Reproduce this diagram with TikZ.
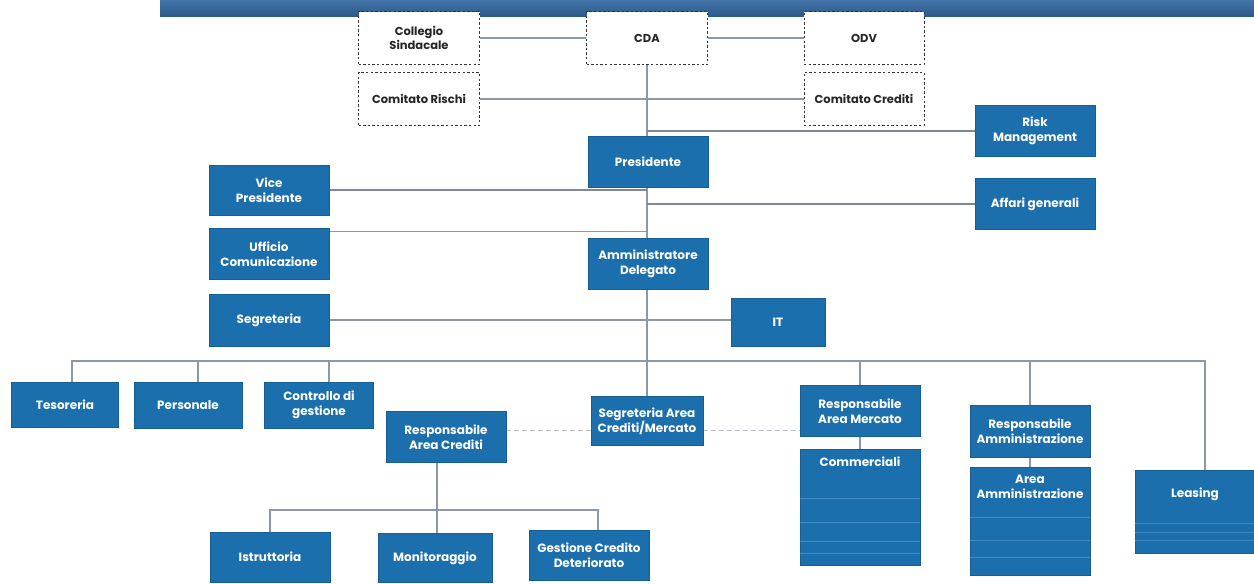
\documentclass[tikz,border=0pt]{standalone}
\usepackage{fontspec}
\setmainfont{Poppins}
\usepackage{xcolor}
\usetikzlibrary{positioning,calc,backgrounds}

\definecolor{unitblue}{HTML}{1B6FAC}
\definecolor{bannertop}{HTML}{4274A8}
\definecolor{bannerbot}{HTML}{2D5A8C}
\definecolor{linkgray}{HTML}{8C97A8}
\definecolor{stripeblue}{HTML}{3F8AC2}

\tikzset{
  unit/.style={draw=unitblue!85!black, line width=0.6pt, fill=unitblue, text=white,
    font=\bfseries\fontsize{12}{15}\selectfont, align=center, inner sep=1pt,
    minimum width=120pt, minimum height=51pt},
  organ/.style={draw=black!80, line width=1pt, dash pattern=on 2.4pt off 2.2pt, fill=white,
    text=black!85, font=\bfseries\fontsize{11.5}{14}\selectfont, align=center, inner sep=1pt,
    minimum width=121pt, minimum height=53pt},
  link/.style={draw=linkgray, line width=1.3pt},
  thicklink/.style={draw=linkgray!90!black, line width=2.2pt},
  softlink/.style={draw=linkgray!60, line width=1pt, dash pattern=on 5pt off 3pt},
  stripe/.style={draw=stripeblue, line width=1pt}
}

% text at the top of a tall (stacked) box
\newcommand{\stackhead}[2]{\parbox[c][#1pt][t]{118pt}{\centering\vspace{6pt}#2}}

\begin{document}
\begin{tikzpicture}[x=1pt,y=-1pt]
    \useasboundingbox (0,0) rectangle (1254,584);

    % banner
    \shade[top color=bannertop, bottom color=bannerbot] (160,0) rectangle (1254,16);

    % control bodies
    \node[organ] (coll) at (419,38) {Collegio\\Sindacale};
    \node[organ] (cda) at (647,38) {CDA};
    \node[organ, minimum width=120pt] (odv) at (864,38) {ODV};
    \node[organ] (risch) at (419,99) {Comitato Rischi};
    \node[organ, minimum width=120pt] (ccred) at (864,99) {Comitato Crediti};

    % top management
    \node[unit] (pres) at (648,162) {Presidente};
    \node[unit] (risk) at (1035,131) {Risk\\Management};
    \node[unit, minimum height=50pt] (vice) at (269,190) {Vice\\Presidente};
    \node[unit] (affari) at (1035,204) {Affari generali};
    \node[unit] (uffcom) at (269,254) {Ufficio\\Comunicazione};
    \node[unit] (ad) at (648,264) {Amministratore\\Delegato};
    \node[unit, minimum height=52pt] (segr) at (269,320) {Segreteria};
    \node[unit, minimum width=94pt, minimum height=48pt] (it) at (778,322) {IT};

    % staff under the bus
    \node[unit, minimum width=107pt, minimum height=45pt] (tes) at (65,405) {Tesoreria};
    \node[unit, minimum width=108pt, minimum height=46pt] (pers) at (188,405) {Personale};
    \node[unit, minimum width=109pt, minimum height=46pt] (ctrl) at (319,405) {Controllo di\\gestione};
    \node[unit, minimum width=112pt, minimum height=49pt] (seca) at (647,421) {Segreteria Area\\Crediti/Mercato};
    \node[unit] (rac) at (446,437) {Responsabile\\Area Crediti};
    \node[unit] (ram) at (860,411) {Responsabile\\Area Mercato};
    \node[unit, minimum height=52pt] (ramm) at (1030,431) {Responsabile\\Amministrazione};

    % stacked areas
    \node[unit, minimum height=116pt] (comm) at (860,507) {\stackhead{112}{Commerciali}};
    \node[unit, minimum height=108pt] (aamm) at (1030,521) {\stackhead{104}{Area\\Amministrazione}};
    \node[unit, minimum width=119pt, minimum height=83pt] (leas) at (1195,512) {\stackhead{79}{\vspace{9pt}Leasing}};
    \foreach \f in {0.43,0.63,0.8,0.9}
        \draw[stripe] ($(comm.north west)!\f!(comm.south west)$) -- ($(comm.north east)!\f!(comm.south east)$);
    \foreach \f in {0.47,0.68,0.84}
        \draw[stripe] ($(aamm.north west)!\f!(aamm.south west)$) -- ($(aamm.north east)!\f!(aamm.south east)$);
    \foreach \f in {0.64,0.75,0.84}
        \draw[stripe] ($(leas.north west)!\f!(leas.south west)$) -- ($(leas.north east)!\f!(leas.south east)$);

    % credit offices
    \node[unit, minimum height=50pt] (istr) at (270,557) {Istruttoria};
    \node[unit, minimum width=114pt, minimum height=49pt] (mon) at (435,558) {Monitoraggio};
    \node[unit, minimum height=50pt] (gcd) at (589,555) {Gestione Credito\\Deteriorato};

    % connectors
    \begin{scope}[on background layer]
        \coordinate (bus) at (0,361);
        \coordinate (subbus) at (0,510);
        \draw[link] (coll.east) -- (cda.west);
        \draw[link] (cda.east) -- (odv.west);
        \draw[link] (risch.east) -- (ccred.west);
        \draw[link] (cda.south) -- (seca.north);
        \draw[thicklink] (cda.south |- risk.west) -- (risk.west);
        \draw[thicklink] (vice.east) -- (vice.east -| cda.south);
        \draw[link] ([yshift=-3pt]uffcom.north east) -- ([yshift=-3pt]uffcom.north east -| cda.south);
        \draw[thicklink] (cda.south |- affari.west) -- (affari.west);
        \draw[link] (segr.east) -- (segr.east -| it.west);
        % bus to the offices
        \draw[link] ([xshift=7pt]tes.north) -- ([xshift=7pt]tes.north |- bus) -| (leas.north -| 1205,0);
        \draw[link] ([xshift=10pt]pers.north) -- ([xshift=10pt]pers.north |- bus);
        \draw[link] ([xshift=10pt]ctrl.north) -- ([xshift=10pt]ctrl.north |- bus);
        \draw[link] (ram.north) -- (ram.north |- bus);
        \draw[link] (ramm.north) -- (ramm.north |- bus);
        \draw[link] (ram.south) -- (comm.north);
        \draw[link] (ramm.south) -- (aamm.north);
        % credit area
        \draw[softlink] (rac.east |- 0,430) -- (seca.west |- 0,430);
        \draw[softlink] (seca.east |- 0,430) -- (ram.west |- 0,430);
        \draw[link] ([xshift=-9pt]rac.south) -- ([xshift=-9pt]rac.south |- mon.north);
        \draw[link] (istr.north) -- (istr.north |- subbus) -| ([xshift=9pt]gcd.north);
    \end{scope}
\end{tikzpicture}
\end{document}
